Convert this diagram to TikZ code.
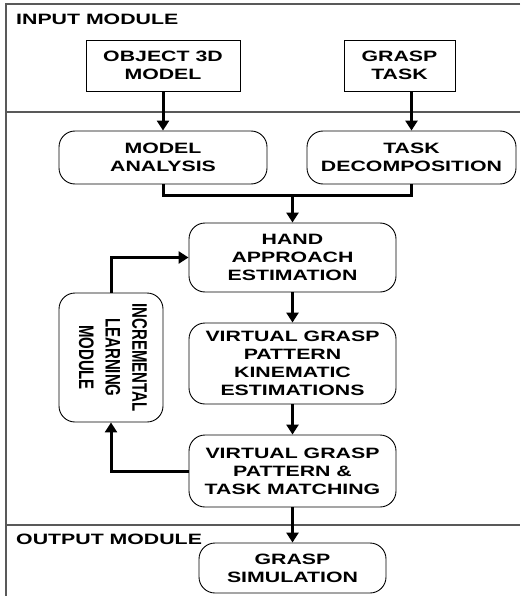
\documentclass[tikz,border=0pt]{standalone}
\usepackage{fontspec}
\newfontfamily\widefont[FakeStretch=1.42]{Liberation Sans}
\newfontfamily\narrowfont{Liberation Sans}
\usetikzlibrary{arrows.meta}

\begin{document}
\begin{tikzpicture}[x=1pt, y=-1pt,
    every node/.style={font=\widefont\bfseries\fontsize{15}{18}\selectfont, align=center, inner sep=0pt},
    inbox/.style={draw, line width=0.9pt, minimum width=#1, minimum height=51pt},
    stage/.style={draw, line width=0.9pt, rounded corners=16pt, minimum width=207pt},
    flow/.style={line width=3pt, -{Triangle[width=12pt,length=10pt]}},
    link/.style={line width=3pt},
    frame/.style={line width=1.5pt, black!65}]
  \useasboundingbox (0,0) rectangle (520,596);
  % Module frame
  \draw[frame] (520,4) -- (6,4) -- (6,596);
  \draw[frame] (6,112) -- (520,112);
  \draw[frame] (6,525) -- (520,525);
  \node[anchor=west] (inlabel) at (16,19) {INPUT MODULE};
  \node[anchor=west] (outlabel) at (16,539) {OUTPUT MODULE};
  % Inputs
  \node[inbox=154pt] (object) at (163,65.5) {OBJECT 3D\\MODEL};
  \node[inbox=111pt] (task) at (399.5,65.5) {GRASP\\TASK};
  % Processing stages
  \node[stage, minimum width=208pt, minimum height=53pt] (analysis) at (163,157.5) {MODEL\\ANALYSIS};
  \node[stage, minimum width=209pt, minimum height=53pt] (decomp) at (411.5,157.5) {TASK\\DECOMPOSITION};
  \node[stage, minimum height=69pt] (approach) at (292.5,257.5) {HAND\\APPROACH\\ESTIMATION};
  \node[stage, minimum height=81pt] (kinematic) at (292.5,363.5) {VIRTUAL GRASP\\PATTERN\\KINEMATIC\\ESTIMATIONS};
  \node[stage, minimum height=72pt] (matching) at (292.5,471) {VIRTUAL GRASP\\PATTERN \&\\TASK MATCHING};
  \node[stage, minimum width=187pt, minimum height=50pt] (simulation) at (292.5,568) {GRASP\\SIMULATION};
  \node[stage, minimum width=104pt, minimum height=129pt] (learning) at (111,357.5)
    {\scalebox{1.4}[1]{\rotatebox{-90}{\narrowfont\bfseries\fontsize{15}{19}\selectfont
     \begin{tabular}{@{}c@{}}INCREMENTAL\\LEARNING\\MODULE\end{tabular}}}};
  \coordinate (merge) at (292.5,195);
  % Arrows
  \draw[flow] (object) -- (analysis);
  \draw[flow] (task.south -| decomp) -- (decomp);
  \draw[link] (analysis) |- (merge) -| (decomp);
  \draw[flow] (merge) -- (approach);
  \draw[flow] (approach) -- (kinematic);
  \draw[flow] (kinematic) -- (matching);
  \draw[flow] (matching) -- (simulation);
  % Feedback loop
  \draw[flow] (matching.west) -| (learning.south);
  \draw[flow] (learning.north) |- (approach.west);
\end{tikzpicture}
\end{document}
